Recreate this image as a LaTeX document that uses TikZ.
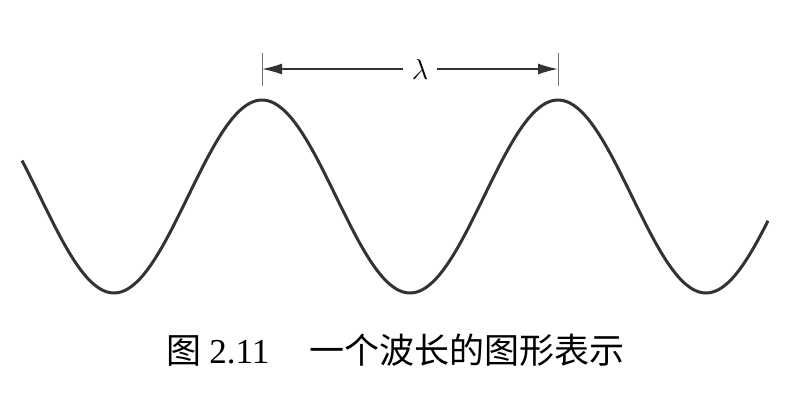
\documentclass[tikz,border=0pt]{standalone}
\usepackage{fontspec}
\setmainfont{Liberation Serif}
\newfontfamily\cjk{Noto Sans CJK SC}
\usetikzlibrary{arrows.meta}
\tikzset{
  wave/.style={line width=1.5pt, color=black!80},
  dimline/.style={line width=0.7pt, color=black!80},
  dimtick/.style={line width=0.5pt, color=black!55},
}
\begin{document}
\begin{tikzpicture}[x=0.5pt, y=-0.5pt]
\useasboundingbox (0,0) rectangle (803,408);
% the wave
\draw[wave] plot[domain=22:768, samples=240, smooth] (\x, {196.5-96.5*cos((\x-262)*1.21622)});
% wavelength marker
\coordinate (tickL) at (262,53);
\coordinate (tickR) at (558,53);
\draw[dimtick] (tickL) -- ++(0,33);
\draw[dimtick] (tickR) -- ++(0,33);
\node[inner sep=1pt, font=\fontsize{15}{15}\selectfont] (lam) at (420,69) {$\lambda$};
\draw[dimline, -{Latex[length=10pt, width=5.5pt]}] (lam.west) ++(-6,0) -- (tickL|-lam);
\draw[dimline, -{Latex[length=10pt, width=5.5pt]}] (lam.east) ++(6,0) -- (tickR|-lam);
% caption
\node[inner sep=0pt, font=\fontsize{17.5}{17.5}\selectfont, anchor=west] (caption) at (166,350)
  {{\cjk 图}\hspace{4pt}2.11\hspace{20pt}{\cjk 一个波长的图形表示}};
\end{tikzpicture}
\end{document}
